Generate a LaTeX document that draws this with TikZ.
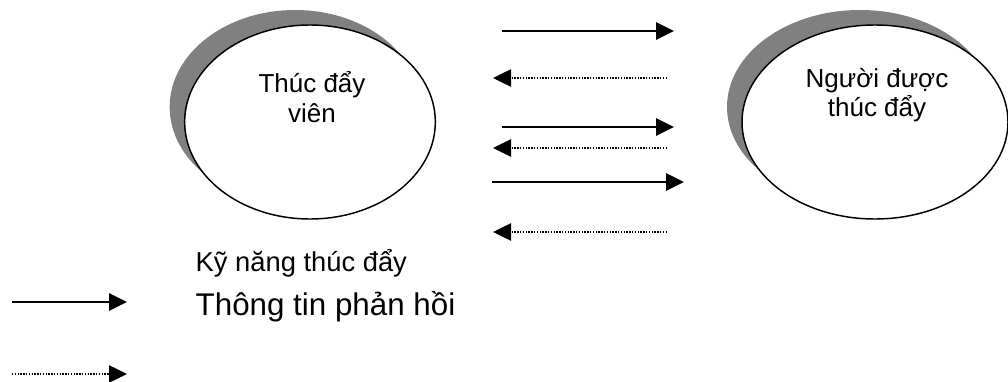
\documentclass[tikz,border=0pt]{standalone}
\usepackage{fontspec}
\setmainfont{Liberation Sans}
\usepackage{tikz}
\usetikzlibrary{shapes.geometric, shadows, arrows.meta}

\tikzset{
    bubble/.style={ellipse, draw, line width=1.1pt, fill=white, inner sep=0pt,
        minimum height=145.5pt,
        drop shadow={shadow xshift=-11.25pt, shadow yshift=11.25pt, fill=black!50, opacity=1}},
    bubbletext/.style={align=center, font=\fontsize{19.5}{22}\selectfont},
    skill/.style={line width=1.5pt, -{Triangle[length=13.5pt, width=13pt]}},
    feedback/.style={line width=1pt, dash pattern=on 1pt off 1.1pt, -{Triangle[length=13.5pt, width=13pt]}}
}

\begin{document}
\begin{tikzpicture}[x=0.75pt, y=-0.75pt]
    \useasboundingbox (0,0) rectangle (1008,382);

    % Draw the two people
    \node[bubble, minimum width=188pt] (motivator) at (310,122) {};
    \node[bubble, minimum width=199.5pt] (motivated) at (875,122) {};
    \node[bubbletext] (motivatorlabel) at (312,97) {Thúc đẩy\\viên};
    \node[bubbletext] (motivatedlabel) at (877,95) {Người được\\thúc đẩy};

    % Arrow end points
    \coordinate (skillA1) at (502,31);  \coordinate (skillB1) at (674,31);
    \coordinate (backA1) at (667,78);   \coordinate (backB1) at (493,78);
    \coordinate (skillA2) at (502,127); \coordinate (skillB2) at (674,127);
    \coordinate (backA2) at (667,148);  \coordinate (backB2) at (493,148);
    \coordinate (skillA3) at (492,182); \coordinate (skillB3) at (684,182);
    \coordinate (backA3) at (667,232);  \coordinate (backB3) at (493,232);

    % Add arrows between them
    \draw[skill] (skillA1) -- (skillB1);
    \draw[feedback] (backA1) -- (backB1);
    \draw[skill] (skillA2) -- (skillB2);
    \draw[feedback] (backA2) -- (backB2);
    \draw[skill] (skillA3) -- (skillB3);
    \draw[feedback] (backA3) -- (backB3);

    % Add legend
    \node[anchor=base west, font=\fontsize{20.5}{24}\selectfont] (skilltitle) at (191,271) {Kỹ năng thúc đẩy};
    \node[anchor=base west, font=\fontsize{23.5}{28}\selectfont] (feedbacktitle) at (191,315) {Thông tin phản hồi};
    \coordinate (keyA1) at (12,302);  \coordinate (keyB1) at (127,302);
    \coordinate (keyA2) at (12,374);  \coordinate (keyB2) at (127,374);
    \draw[skill] (keyA1) -- (keyB1);
    \draw[feedback] (keyA2) -- (keyB2);
\end{tikzpicture}
\end{document}
